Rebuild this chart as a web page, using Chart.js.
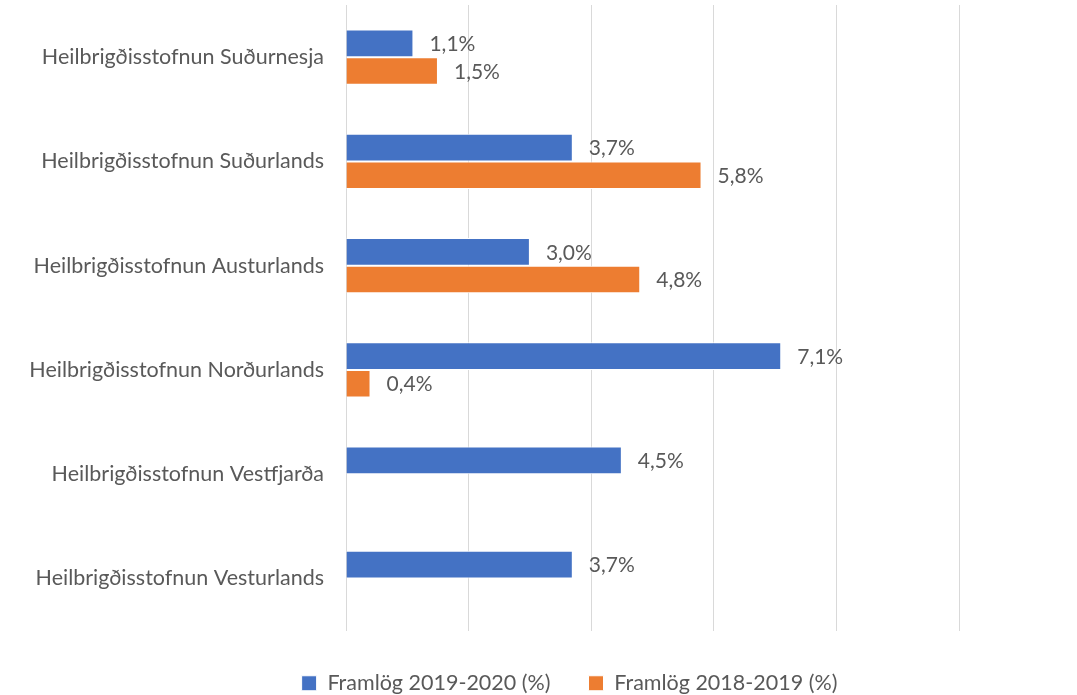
<!DOCTYPE html>
<html>
<head>
<meta charset="utf-8">
<script src="https://cdn.jsdelivr.net/npm/chart.js@4"></script>
<style>
  html, body { margin: 0; padding: 0; background: #fff; }
  #wrap { width: 1077px; height: 695px; position: relative; }
</style>
</head>
<body>
<div id="wrap"><canvas id="chart"></canvas></div>
<script>
// Gögn lesin af myndinni
const categories = [
    'Heilbrigðisstofnun Suðurnesja',
    'Heilbrigðisstofnun Suðurlands',
    'Heilbrigðisstofnun Austurlands',
    'Heilbrigðisstofnun Norðurlands',
    'Heilbrigðisstofnun Vestfjarða',
    'Heilbrigðisstofnun Vesturlands'
];
const framlog20192020 = [1.1, 3.7, 3.0, 7.1, 4.5, 3.7];
const framlog20182019 = [1.5, 5.8, 4.8, 0.4, null, null];
const seriesNames = ['Framlög 2019-2020 (%)', 'Framlög 2018-2019 (%)'];

const fontFamily = 'Lato, "Open Sans", sans-serif';
const textColor = '#595959';

// Gildismerki aftan við hverja súlu
const valueLabels = {
    id: 'valueLabels',
    afterDatasetsDraw(chart) {
        const ctx = chart.ctx;
        ctx.save();
        ctx.font = '21px ' + fontFamily;
        ctx.fillStyle = textColor;
        ctx.textAlign = 'left';
        ctx.textBaseline = 'middle';
        chart.data.datasets.forEach((ds, di) => {
            const meta = chart.getDatasetMeta(di);
            meta.data.forEach((bar, i) => {
                const v = ds.data[i];
                if (v === null || v === undefined) return;
                const txt = v.toFixed(1).replace('.', ',') + '%';
                ctx.fillText(txt, bar.x + 16, bar.y + 1);
            });
        });
        ctx.restore();
    }
};

// Færir skýringuna til svo hún sitji eins og í frumritinu
const legendShift = {
    id: 'legendShift',
    afterLayout(chart) {
        chart.legend.left += 180;
        chart.legend.top += 4;
        chart.legend.bottom += 4;
    }
};

new Chart(document.getElementById('chart'), {
    type: 'bar',
    data: {
        labels: categories,
        datasets: [
            {
                label: seriesNames[0],
                data: framlog20192020,
                backgroundColor: '#4472C4',
                borderColor: '#ffffff',
                borderWidth: 1,
                categoryPercentage: 0.53,
                barPercentage: 1
            },
            {
                label: seriesNames[1],
                data: framlog20182019,
                backgroundColor: '#ED7D31',
                borderColor: '#ffffff',
                borderWidth: 1,
                categoryPercentage: 0.53,
                barPercentage: 1
            }
        ]
    },
    options: {
        indexAxis: 'y',
        responsive: true,
        maintainAspectRatio: false,
        animation: false,
        layout: { padding: { top: 5, right: 118, bottom: -5, left: 0 } },
        plugins: {
            legend: {
                position: 'bottom',
                labels: {
                    color: textColor,
                    font: { family: fontFamily, size: 21.5 },
                    boxWidth: 15,
                    boxHeight: 15,
                    padding: 38
                }
            },
            tooltip: { enabled: false }
        },
        scales: {
            x: {
                min: 0,
                max: 10,
                ticks: { display: false, stepSize: 2 },
                border: { display: false },
                grid: { color: '#d9d9d9', lineWidth: 1, drawTicks: false }
            },
            y: {
                ticks: {
                    color: textColor,
                    font: { family: fontFamily, size: 21.5 },
                    padding: 22
                },
                border: { display: false },
                grid: { display: false, drawTicks: false },
                afterFit(scale) {
                    scale.width = 346;
                    scale.paddingTop = 0;
                    scale.paddingBottom = 0;
                }
            }
        }
    },
    plugins: [valueLabels, legendShift]
});
</script>
</body>
</html>
